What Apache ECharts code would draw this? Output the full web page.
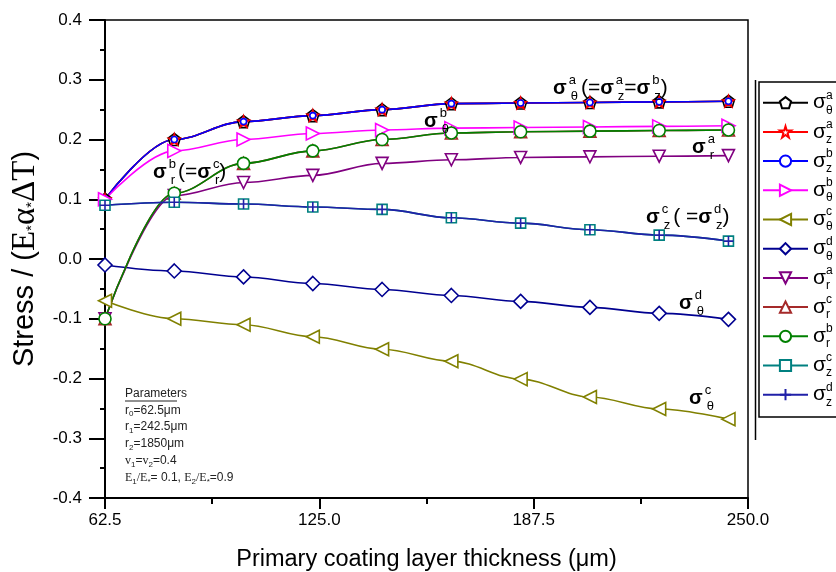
<!DOCTYPE html>
<html><head><meta charset="utf-8">
<script src="https://cdn.jsdelivr.net/npm/echarts@6/dist/echarts.min.js"></script>
<style>html,body{margin:0;padding:0;background:#fff}#c{width:836px;height:572px}</style>
</head><body><div id="c"></div>
<script>
// ---- data ----
const thickness = [62.5, 82.7, 102.9, 123.1, 143.3, 163.5, 183.7, 203.9, 224.1, 244.3];
const sigThetaA = [0.100, 0.200, 0.230, 0.240, 0.250, 0.260, 0.261, 0.262, 0.263, 0.264];
const sigZA     = [0.100, 0.200, 0.230, 0.240, 0.250, 0.260, 0.261, 0.262, 0.263, 0.264];
const sigZB     = [0.100, 0.200, 0.230, 0.240, 0.250, 0.260, 0.261, 0.262, 0.263, 0.264];
const sigThetaB = [0.100, 0.181, 0.200, 0.210, 0.216, 0.219, 0.220, 0.221, 0.222, 0.223];
const sigThetaC = [-0.070, -0.100, -0.110, -0.130, -0.151, -0.171, -0.201, -0.231, -0.251, -0.268];
const sigThetaD = [-0.010, -0.020, -0.030, -0.041, -0.051, -0.061, -0.071, -0.081, -0.091, -0.101];
const sigRA     = [-0.100, 0.106, 0.128, 0.140, 0.160, 0.166, 0.170, 0.171, 0.172, 0.173];
const sigRC     = [-0.100, 0.110, 0.160, 0.181, 0.200, 0.211, 0.213, 0.214, 0.215, 0.216];
const sigRB     = [-0.100, 0.110, 0.160, 0.181, 0.200, 0.211, 0.213, 0.214, 0.215, 0.216];
const sigZC     = [0.090, 0.095, 0.092, 0.087, 0.083, 0.069, 0.060, 0.049, 0.040, 0.030];
const sigZD     = [0.090, 0.095, 0.092, 0.087, 0.083, 0.069, 0.060, 0.049, 0.040, 0.030];
const xTicks = [62.5, 125.0, 187.5, 250.0];
const yTicks = [-0.4, -0.3, -0.2, -0.1, 0.0, 0.1, 0.2, 0.3, 0.4];

// ---- symbols ----
const SYM = {
  pentagon: 'path://M50 0 L100 38 L81 100 L19 100 L0 38 Z',
  star: 'path://M50 0 L61 35 L98 35 L68 57 L79 91 L50 70 L21 91 L32 57 L2 35 L39 35 Z',
  right: 'path://M0 0 L100 50 L0 100 Z',
  left: 'path://M100 0 L0 50 L100 100 Z',
  down: 'path://M0 0 L100 0 L50 100 Z',
  up: 'path://M50 0 L100 100 L0 100 Z',
  plus: 'path://M50 0 L50 100 M0 50 L100 50'
};

function mk(name, vals, color, symbol, size) {
  return {
    name: name, type: 'line', smooth: 0.35, smoothMonotone: 'x',
    data: thickness.map((x, i) => [x, vals[i]]),
    symbol: symbol, symbolSize: size, showAllSymbol: true,
    lineStyle: { color: color, width: 1.6 },
    itemStyle: { color: '#fff', borderColor: color, borderWidth: 1.6 },
    emphasis: { disabled: true }
  };
}

const series = [
  mk('θa', sigThetaA, '#000000', SYM.pentagon, 12),
  mk('za', sigZA, '#ff0000', SYM.star, 11),
  mk('zb', sigZB, '#0000ff', 'circle', 6),
  mk('θb', sigThetaB, '#ff00ff', SYM.right, 13),
  mk('θc', sigThetaC, '#808000', SYM.left, 13),
  mk('θd', sigThetaD, '#000090', 'diamond', 14),
  mk('ra', sigRA, '#800080', SYM.down, 12),
  mk('rc', sigRC, '#a52a2a', SYM.up, 12),
  mk('rb', sigRB, '#008000', 'circle', 12),
  mk('zc', sigZC, '#008080', 'rect', 10),
  mk('zd', sigZD, '#2020a8', SYM.plus, 10)
];

const FONT = 'Liberation Sans, Arial, sans-serif';
const legendRich = {
  s: { fontSize: 21, fontFamily: FONT, lineHeight: 20, color: '#000' },
  p: { fontSize: 12, fontFamily: FONT, lineHeight: 20, padding: [0, 0, 15, 0], width: 0, color: '#000' },
  b: { fontSize: 12, fontFamily: FONT, lineHeight: 20, padding: [15, 0, 0, 0], color: '#000' }
};

const annRich = {
  s: { fontSize: 20, fontFamily: FONT, fontWeight: 'bold', lineHeight: 22, fill: '#000' },
  p: { fontSize: 13, fontFamily: FONT, lineHeight: 22, padding: [0, 0, 16, 2], width: 0, fill: '#000' },
  b: { fontSize: 13, fontFamily: FONT, lineHeight: 22, padding: [16, 0, 0, 2], fill: '#000' },
  q: { fontSize: 21, fontFamily: FONT, lineHeight: 22, fill: '#000', padding: [0, 0, 0, 3] },
  e: { fontSize: 21, fontFamily: FONT, lineHeight: 22, fill: '#000' }
};
function ann(x, y, text) {
  return { type: 'text', x: x, y: y, z: 100, style: { text: text, rich: annRich, verticalAlign: 'middle', fill: '#000' } };
}

const parRich = {
  n: { fontSize: 12, fontFamily: FONT, lineHeight: 16.8, fill: '#222' },
  t: { fontSize: 12, fontFamily: 'Liberation Serif, serif', lineHeight: 16.8, fill: '#222' },
  b: { fontSize: 8, fontFamily: FONT, lineHeight: 16.8, padding: [8, 0, 0, 0], fill: '#222' }
};

const chart = echarts.init(document.getElementById('c'), null, { renderer: 'canvas' });
chart.setOption({
  animation: false,
  backgroundColor: '#fff',
  grid: { left: 105, right: 88, top: 20, bottom: 74, show: true, borderColor: '#000', borderWidth: 1.5, backgroundColor: 'transparent', containLabel: false, outerBoundsMode: 'none' },
  xAxis: {
    type: 'value', min: xTicks[0], max: xTicks[xTicks.length - 1], interval: 62.5,
    name: 'Primary coating layer thickness (μm)', nameLocation: 'middle', nameGap: 50,
    nameTextStyle: { fontSize: 23.5, fontFamily: FONT, color: '#000' },
    axisLine: { onZero: false, lineStyle: { color: '#000', width: 2 } },
    axisTick: { length: 11, lineStyle: { color: '#000', width: 2 } },
    minorTick: { show: true, splitNumber: 2, length: 6, lineStyle: { color: '#000', width: 2 } },
    axisLabel: { fontSize: 17, fontFamily: FONT, color: '#000', margin: 14, formatter: v => v.toFixed(1) },
    splitLine: { show: false }
  },
  yAxis: {
    type: 'value', min: yTicks[0], max: yTicks[yTicks.length - 1], interval: 0.1,
    name: '{a|Stress / (}{t|E}{b|*}{t|α}{b|*}{t|ΔT}{a|)}', nameLocation: 'middle', nameGap: 62, nameRotate: 90,
    nameTextStyle: { color: '#000', rich: {
      a: { fontSize: 29, fontFamily: FONT, color: '#000', lineHeight: 33 },
      t: { fontSize: 33, fontFamily: 'Liberation Serif, serif', color: '#000', lineHeight: 33 },
      b: { fontSize: 15, fontFamily: FONT, color: '#000', lineHeight: 33, padding: [14, 0, 0, 0] }
    } },
    axisLine: { onZero: false, lineStyle: { color: '#000', width: 2 } },
    axisTick: { length: 16, lineStyle: { color: '#000', width: 2 } },
    minorTick: { show: true, splitNumber: 2, length: 5, lineStyle: { color: '#000', width: 2 } },
    axisLabel: { fontSize: 17, fontFamily: FONT, color: '#000', margin: 23, formatter: v => v.toFixed(1) },
    splitLine: { show: false }
  },
  legend: {
    orient: 'vertical', left: 762, top: 89.2, padding: 0, itemGap: 2.2,
    itemWidth: 45, itemHeight: 14, selectedMode: false,
    data: series.map(s => s.name),
    formatter: n => '{s|σ}{p|' + n[1] + '}{b|' + n[0] + '}',
    textStyle: { rich: legendRich }
  },
  graphic: [
    { type: 'rect', shape: { x: 759, y: 82, width: 100, height: 335 }, style: { fill: 'none', stroke: '#000', lineWidth: 1.5 }, z: -1 },
    { type: 'line', shape: { x1: 755.5, y1: 80, x2: 755.5, y2: 440 }, style: { stroke: '#000', lineWidth: 1.5 } },
    ann(553, 88, '{s|σ}{p|a}{b|θ}{q|(=}{s|σ}{p|a}{b|z}{e|=}{s|σ}{p|b}{b|z}{e|)}'),
    ann(424, 121, '{s|σ}{p|b}{b|θ}'),
    ann(692, 147, '{s|σ}{p|a}{b|r}'),
    ann(153, 172, '{s|σ}{p|b}{b|r}{q|(=}{s|σ}{p|c}{b|r}{e|)}'),
    ann(646, 217, '{s|σ}{p|c}{b|z}{q|( =}{s|σ}{p|d}{b|z}{e|)}'),
    ann(679, 303, '{s|σ}{p|d}{b|θ}'),
    ann(689, 398, '{s|σ}{p|c}{b|θ}'),
    { type: 'text', x: 125, y: 385, z: 100, style: { rich: parRich, text: [
      '{n|Parameters}',
      '{n|r}{b|0}{n|=62.5μm}',
      '{n|r}{b|1}{n|=242.5μm}',
      '{n|r}{b|2}{n|=1850μm}',
      '{t|v}{b|1}{n|=}{t|v}{b|2}{n|=0.4}',
      '{t|E}{b|1}{t|/E}{b|*}{n|= 0.1, }{t|E}{b|2}{t|/E}{b|*}{n|=0.9}'
    ].join('\n') } },
    { type: 'line', shape: { x1: 125, y1: 401, x2: 177, y2: 401 }, style: { stroke: '#222', lineWidth: 1 } }
  ],
  series: series
});
</script>
</body></html>
